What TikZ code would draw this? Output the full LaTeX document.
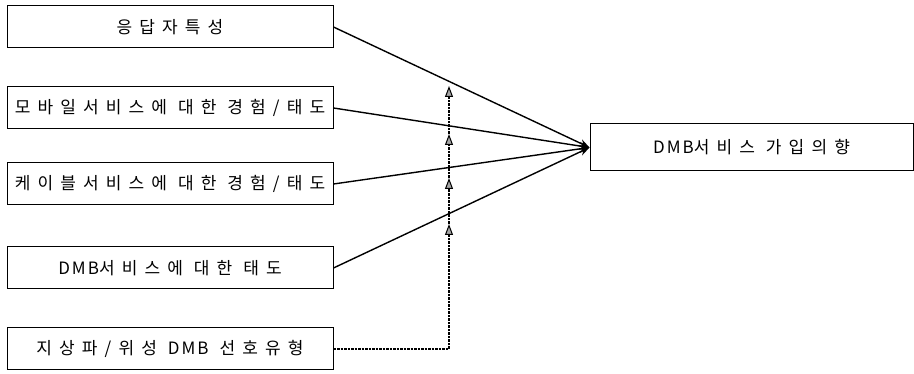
\documentclass[tikz,border=0pt]{standalone}
\usepackage{fontspec}
\setmainfont{Noto Sans CJK KR}[LetterSpace=42]
\newfontfamily\latinf{Noto Sans CJK KR}[LetterSpace=12]
\newcommand{\dmb}{{\latinf DMB}}
\usetikzlibrary{arrows.meta}
\begin{document}
\begin{tikzpicture}[x=1pt,y=1pt,
  box/.style={draw, line width=1pt, minimum width=326pt, minimum height=42pt, inner sep=0pt, font=\fontsize{17}{19}\selectfont},
  rbox/.style={box, minimum width=323pt, minimum height=47pt},
  link/.style={line width=1.4pt, -{Stealth[length=10pt,width=8pt]}},
  modline/.style={line width=1.2pt, dash pattern=on 2.5pt off 1pt, -{Triangle[length=11pt,width=8pt,fill=gray!70,line width=1pt]}}]
\useasboundingbox (0,0) rectangle (914,374);
\node[box] (b1) at (170,347) {응답자특성};
\node[box] (b2) at (170,266) {모바일서비스에 대한 경험/태도};
\node[box] (b3) at (170,190) {케이블서비스에 대한 경험/태도};
\node[box] (b4) at (170,106) {\dmb 서비스에 대한 태도};
\node[box] (b5) at (170,25) {지상파/위성 \dmb{} 선호유형};
\node[rbox] (r) at (751.5,226.5) {\dmb 서비스 가입의향};
\foreach \i in {1,2,3,4} \draw[link] (b\i.east) -- (r.west);
\coordinate (turn) at (449,25);
\coordinate (a1) at (449,288);
\coordinate (a2) at (449,240);
\coordinate (a3) at (449,196);
\coordinate (a4) at (449,150);
\draw[modline] (b5.east) -- (turn) -- (a4);
\draw[modline] (a4) -- (a3);
\draw[modline] (a3) -- (a2);
\draw[modline] (a2) -- (a1);
\end{tikzpicture}
\end{document}
